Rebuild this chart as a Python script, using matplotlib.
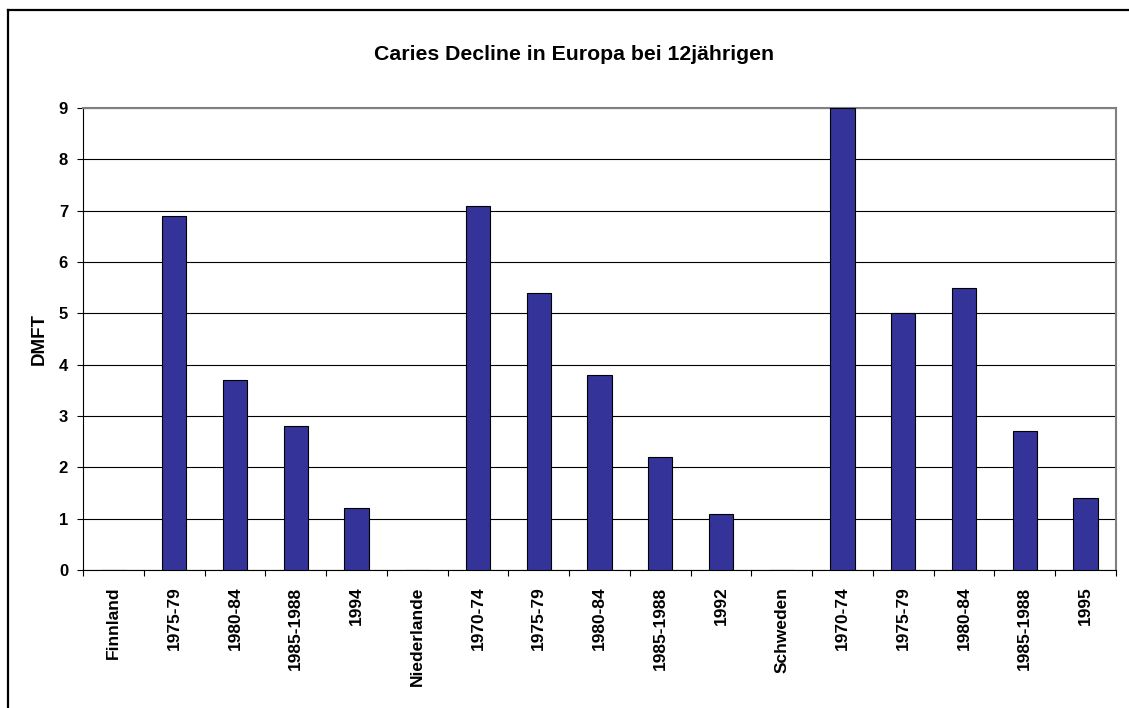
"""Caries decline bar chart."""

from matplotlib import pyplot as plt
from matplotlib.lines import Line2D
import numpy as np

plt.rcParams['font.family'] = ['Liberation Sans', 'DejaVu Sans']
plt.rcParams['font.weight'] = 'bold'

# data
categories = ['Finnland', '1975-79', '1980-84', '1985-1988', '1994',
              'Niederlande', '1970-74', '1975-79', '1980-84', '1985-1988', '1992',
              'Schweden', '1970-74', '1975-79', '1980-84', '1985-1988', '1995']
dmft = [0, 6.9, 3.7, 2.8, 1.2,
        0, 7.1, 5.4, 3.8, 2.2, 1.1,
        0, 9.0, 5.0, 5.5, 2.7, 1.4]
y_ticks = list(range(0, 10))

fig = plt.figure(figsize=(11.29, 7.08), dpi=100)
ax = fig.add_axes([83 / 1129, 1 - 570 / 708, (1116 - 83) / 1129, (570 - 108) / 708])

x = np.arange(len(categories))
ax.bar(x, dmft, width=0.4, color='#333399', edgecolor='black', linewidth=0.8, zorder=3)

ax.set_xlim(-0.5, len(categories) - 0.5)
ax.set_ylim(0, 9)
ax.set_yticks(y_ticks)
ax.set_yticklabels([str(t) for t in y_ticks], fontsize=12, fontweight='bold')
ax.set_xticks(x)
ax.set_xticklabels(categories, rotation=90, fontsize=12.5, fontweight='bold')
ax.set_xticks(np.arange(len(categories) + 1) - 0.5, minor=True)
ax.tick_params(axis='x', which='major', length=0, pad=12)
ax.tick_params(axis='x', which='minor', length=4.3, width=0.8, direction='out')
ax.tick_params(axis='y', length=4.3, width=0.8, pad=6.5)

ax.grid(axis='y', color='black', linewidth=0.8, zorder=0)
ax.set_axisbelow(True)

for side in ['top', 'right']:
    ax.spines[side].set_color('#808080')
    ax.spines[side].set_linewidth(1.5)
for side in ['left', 'bottom']:
    ax.spines[side].set_color('black')
    ax.spines[side].set_linewidth(0.8)

ax.set_ylabel('DMFT', fontsize=13.5, fontweight='bold', labelpad=8)
fig.text(574 / 1129, 1 - 55 / 708, 'Caries Decline in Europa bei 12jährigen',
         ha='center', va='center', fontsize=15.3, fontweight='bold')

# outer frame (left and top only, as in the cropped original)
fig.add_artist(Line2D([8 / 1129, 8 / 1129], [0, 1 - 10 / 708], color='black', linewidth=1.6))
fig.add_artist(Line2D([8 / 1129, 1], [1 - 10 / 708, 1 - 10 / 708], color='black', linewidth=1.6))

fig.savefig('out.png', dpi=100)
